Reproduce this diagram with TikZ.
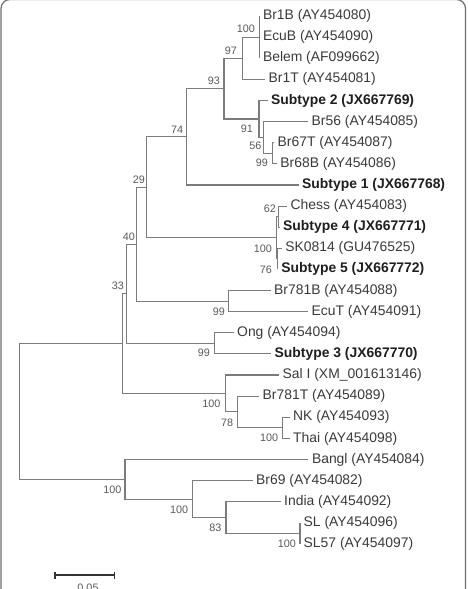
\documentclass[tikz,border=0pt]{standalone}
\usepackage{fontspec}
\setmainfont{Liberation Sans}
\definecolor{treeline}{HTML}{7C7C7C}
\definecolor{leaftext}{HTML}{3A3A3A}
\definecolor{boldtext}{HTML}{1E1E1E}
\definecolor{boottext}{HTML}{595959}
\definecolor{framec}{HTML}{6E6E6E}
\definecolor{scalec}{HTML}{333333}
\begin{document}
\begin{tikzpicture}[x=1pt,y=-1pt,
  branch/.style={draw=treeline, line width=1.1pt},
  leaf/.style={anchor=west, inner xsep=3.5pt, inner ysep=0pt, text=leaftext, font=\fontsize{13.9}{16}\selectfont},
  leafb/.style={leaf, text=boldtext, font=\fontsize{13.9}{16}\selectfont\bfseries},
  boot/.style={anchor=east, inner sep=0pt, text=boottext, font=\fontsize{10.8}{12}\selectfont},
  scalebar/.style={draw=scalec, line width=1.1pt},
  framebox/.style={draw=framec, line width=1.2pt, rounded corners=9pt}
]
\useasboundingbox (0,0) rectangle (467,589);
\clip (0,0) rectangle (467,589);

% frame
\coordinate (fbl) at (1,600);
\coordinate (ftl) at (1,-0.5);
\coordinate (ftr) at (465.5,-0.5);
\coordinate (fbr) at (465.5,600);
\draw[framebox] (fbl) -- (ftl) -- (ftr) -- (fbr);

% internal nodes
\coordinate (root) at (19.3,411.5);
\coordinate (nA) at (122.3,343.6);
\coordinate (n33) at (126.7,293.8);
\coordinate (n40) at (136.7,244.2);
\coordinate (n29) at (146.7,187.3);
\coordinate (n74) at (186.7,136.8);
\coordinate (n93) at (224,88.6);
\coordinate (n97) at (242.3,58.2);
\coordinate (n100a) at (259.3,37.1);
\coordinate (n91) at (259,119);
\coordinate (n56) at (263.3,137.4);
\coordinate (n99y) at (272.7,153.3);
\coordinate (n100b) at (276.7,237.8);
\coordinate (n62) at (278.3,216.7);
\coordinate (n76) at (277.7,258.9);
\coordinate (n99a) at (228.3,301.1);
\coordinate (n99b) at (214.3,343.4);
\coordinate (n100d) at (225.7,393.4);
\coordinate (n78) at (237.3,411.8);
\coordinate (n100c) at (282.7,427.9);
\coordinate (n100g) at (125,479.3);
\coordinate (n100f) at (192.3,499.1);
\coordinate (n83) at (226,517.6);
\coordinate (n100e) at (300,533.4);

% leaves
\node[leaf] (br1b) at (259.3,16.0) {Br1B (AY454080)};
\node[leaf] (ecub) at (259.3,37.1) {EcuB (AY454090)};
\node[leaf] (belem) at (259.3,58.2) {Belem (AF099662)};
\node[leaf] (br1t) at (265,79.4) {Br1T (AY454081)};
\node[leafb] (st2) at (267.5,100.5) {Subtype 2 (JX667769)};
\node[leaf] (br56) at (308,121.6) {Br56 (AY454085)};
\node[leaf] (br67t) at (274,142.7) {Br67T (AY454087)};
\node[leaf] (br68b) at (276.7,163.8) {Br68B (AY454086)};
\node[leafb] (st1) at (298.5,185.0) {Subtype 1 (JX667768)};
\node[leaf] (chess) at (287,206.1) {Chess (AY454083)};
\node[leafb] (st4) at (279.5,227.2) {Subtype 4 (JX667771)};
\node[leaf] (sk) at (281.7,248.3) {SK0814 (GU476525)};
\node[leafb] (st5) at (277.7,269.4) {Subtype 5 (JX667772)};
\node[leaf] (br781b) at (270.5,290.6) {Br781B (AY454088)};
\node[leaf] (ecut) at (308,311.7) {EcuT (AY454091)};
\node[leaf] (ong) at (233.5,332.8) {Ong (AY454094)};
\node[leafb] (st3) at (271,353.9) {Subtype 3 (JX667770)};
\node[leaf] (sali) at (279,375.0) {Sal I (XM\_001613146)};
\node[leaf] (br781t) at (259,396.2) {Br781T (AY454089)};
\node[leaf] (nk) at (289.5,417.3) {NK (AY454093)};
\node[leaf] (thai) at (289.5,438.4) {Thai (AY454098)};
\node[leaf] (bangl) at (308.3,459.5) {Bangl (AY454084)};
\node[leaf] (br69) at (252.5,480.6) {Br69 (AY454082)};
\node[leaf] (india) at (280.5,501.8) {India (AY454092)};
\node[leaf] (sl) at (300,522.9) {SL (AY454096)};
\node[leaf] (sl57) at (300,544.0) {SL57 (AY454097)};

% branches
\draw[branch] (root) |- (nA);
\draw[branch] (root) |- (n100g);
\draw[branch] (nA) |- (n33);
\draw[branch] (nA) |- (n100d);
\draw[branch] (n33) |- (n40);
\draw[branch] (n33) |- (n99b);
\draw[branch] (n40) |- (n29);
\draw[branch] (n40) |- (n99a);
\draw[branch] (n29) |- (n74);
\draw[branch] (n29) |- (n100b);
\draw[branch] (n74) |- (n93);
\draw[branch] (n74) |- (st1.west);
\draw[branch] (n93) |- (n97);
\draw[branch] (n93) |- (n91);
\draw[branch] (n97) |- (n100a);
\draw[branch] (n97) |- (br1t.west);
\draw[branch] (n100a) |- (br1b.west);
\draw[branch] (n100a) |- (belem.west);
\draw[branch] (n91) |- (st2.west);
\draw[branch] (n91) |- (n56);
\draw[branch] (n56) |- (br56.west);
\draw[branch] (n56) |- (n99y);
\draw[branch] (n99y) |- (br67t.west);
\draw[branch] (n99y) |- (br68b.west);
\draw[branch] (n100b) |- (n62);
\draw[branch] (n100b) |- (n76);
\draw[branch] (n62) |- (chess.west);
\draw[branch] (n62) |- (st4.west);
\draw[branch] (n76) |- (sk.west);
\draw[branch] (n76) |- (st5.west);
\draw[branch] (n99a) |- (br781b.west);
\draw[branch] (n99a) |- (ecut.west);
\draw[branch] (n99b) |- (ong.west);
\draw[branch] (n99b) |- (st3.west);
\draw[branch] (n100d) |- (sali.west);
\draw[branch] (n100d) |- (n78);
\draw[branch] (n78) |- (br781t.west);
\draw[branch] (n78) |- (n100c);
\draw[branch] (n100c) |- (nk.west);
\draw[branch] (n100c) |- (thai.west);
\draw[branch] (n100g) |- (bangl.west);
\draw[branch] (n100g) |- (n100f);
\draw[branch] (n100f) |- (br69.west);
\draw[branch] (n100f) |- (n83);
\draw[branch] (n83) |- (india.west);
\draw[branch] (n83) |- (n100e);
\draw[branch] (n100e) |- (sl.west);
\draw[branch] (n100e) |- (sl57.west);

% bootstrap values
\node[boot] (b100a) at (255,29) {100};
\node[boot] (b97) at (237,51) {97};
\node[boot] (b93) at (220,81) {93};
\node[boot] (b91) at (253,129) {91};
\node[boot] (b56) at (261.7,146) {56};
\node[boot] (b99y) at (268,163) {99};
\node[boot] (b74) at (183.3,130) {74};
\node[boot] (b29) at (145,180) {29};
\node[boot] (b62) at (276,209) {62};
\node[boot] (b100b) at (272,248.3) {100};
\node[boot] (b76) at (272,269.3) {76};
\node[boot] (b40) at (135,237) {40};
\node[boot] (b99a) at (225,311.7) {99};
\node[boot] (b33) at (124,286) {33};
\node[boot] (b99b) at (210,353) {99};
\node[boot] (b100d) at (220.7,403.3) {100};
\node[boot] (b78) at (233.3,422.7) {78};
\node[boot] (b100c) at (278.3,437.7) {100};
\node[boot] (b100g) at (121.7,489.3) {100};
\node[boot] (b100f) at (188.3,509.3) {100};
\node[boot] (b83) at (221.7,527.7) {83};
\node[boot] (b100e) at (296,544) {100};

% scale bar
\coordinate (sb1) at (55,575);
\coordinate (sb2) at (114.3,575);
\draw[scalebar] (sb1) -- (sb2);
\draw[scalebar] ([yshift=-3.5pt]sb1) -- ([yshift=3.5pt]sb1);
\draw[scalebar] ([yshift=-3.5pt]sb2) -- ([yshift=3.5pt]sb2);
\node[inner sep=0pt, text=boottext, font=\fontsize{10.8}{12}\selectfont] (sblabel) at (88,587.5) {0.05};
\end{tikzpicture}
\end{document}
